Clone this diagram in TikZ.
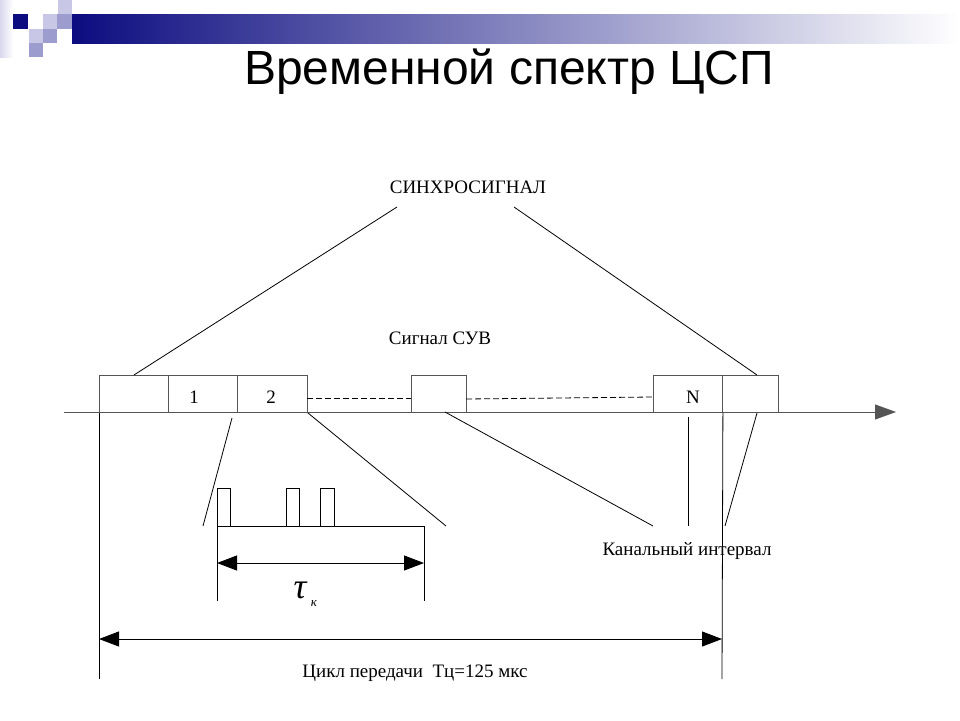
\documentclass[tikz,border=0pt]{standalone}
\usepackage{fontspec}
\setmainfont{Liberation Serif}
\newfontfamily\titlefont{Liberation Sans}
\usetikzlibrary{arrows.meta}
\definecolor{navy}{HTML}{0C0C80}
\definecolor{lav}{HTML}{C8C8E6}
\definecolor{lavmid}{HTML}{9C9CCE}
\definecolor{boxgray}{HTML}{555555}
\begin{document}
\begin{tikzpicture}[x=1pt,y=-1pt,
  slot/.style={draw=boxgray, line width=0.9pt, inner sep=0pt, minimum height=37pt, anchor=north west},
  lbl/.style={inner sep=0pt, anchor=base, font=\fontsize{19}{22}\selectfont},
  wire/.style={line width=0.8pt, black},
  axisline/.style={line width=0.9pt, boxgray},
  dimarrow/.style={line width=0.9pt, black, {Triangle[length=20pt,width=15pt]}-{Triangle[length=20pt,width=15pt]}},
  dashline/.style={line width=0.8pt, black, dash pattern=on 6pt off 3pt}]
\useasboundingbox (0,0) rectangle (960,720);
\fill[white] (0,0) rectangle (960,720);
% header decoration
\shade[left color=navy, right color=white] (72,14) rectangle (960,43);
\shade[left color=lav!70, right color=white] (0,0) rectangle (13,57);
\fill[navy] (13,14) rectangle (28,29);
\fill[lav] (58,0) rectangle (72,14);
\fill[lav] (43,14) rectangle (57,29);
\fill[lavmid] (57,14) rectangle (72,29);
\fill[lav] (29,29) rectangle (43,43);
\fill[lavmid] (43,29) rectangle (57,43);
\fill[lavmid] (29,43) rectangle (43,57);
% title
\node[inner sep=0pt, anchor=base west, font=\titlefont\fontsize{48}{56}\selectfont] (title) at (244,84) {Временной спектр ЦСП};
% axis
\coordinate (ax0) at (64,412);
\coordinate (ax1) at (896,412);
\draw[axisline, -{Triangle[length=21pt,width=15pt]}] (ax0) -- (ax1);
% slots
\node[slot, minimum width=69pt] (s0) at (99,375) {};
\node[slot, minimum width=69pt] (s1) at (168,375) {};
\node[slot, minimum width=70pt] (s2) at (237,375) {};
\node[slot, minimum width=55pt] (sm) at (411,375) {};
\node[slot, minimum width=69pt] (sN) at (653,375) {};
\node[slot, minimum width=56pt] (sz) at (722,375) {};
\node[lbl] (l1) at (194,403) {1};
\node[lbl] (l2) at (271,403) {2};
\node[lbl] (lN) at (693,403) {N};
% dashed links
\coordinate (d0) at (307,398);
\coordinate (d1) at (411,398);
\coordinate (d2) at (466,399);
\coordinate (d3) at (653,397);
\draw[dashline] (d0) -- (d1);
\draw[dashline] (d2) -- (d3);
% labels
\node[lbl] (sync) at (468,193.5) {СИНХРОСИГНАЛ};
\node[lbl] (suv) at (440,344.5) {Сигнал СУВ};
\node[lbl] (ki) at (687,555) {Канальный интервал};
\node[lbl] (cycle) at (415,677) {Цикл передачи\ \ Тц=125 мкс};
% sync connectors
\coordinate (syL) at (397,207);
\coordinate (syR) at (514,207);
\coordinate (szt) at (757,375);
\draw[wire] (syL) -- (s0.north);
\draw[wire] (syR) -- (szt);
% channel interval connectors
\coordinate (smb) at (445,412);
\coordinate (kiA) at (653,526);
\coordinate (kN0) at (688,417);
\coordinate (kN1) at (688,526);
\coordinate (kz0) at (757,413);
\coordinate (kz1) at (725,526);
\draw[wire] (smb) -- (kiA);
\draw[wire] (kN0) -- (kN1);
\draw[wire] (kz0) -- (kz1);
% zoom of slot 2
\coordinate (z0) at (232,418);
\coordinate (z1) at (203,526);
\coordinate (z2) at (446,526);
\draw[wire] (z0) -- (z1);
\draw[wire] (s2.south east) -- (z2);
% pulses
\coordinate (pL) at (217,601);
\coordinate (pR) at (424,601);
\draw[wire] (pL) -- (217,488) -- (230,488) -- (230,526);
\draw[wire] (217,526) -- (424,526) -- (pR);
\draw[wire] (286,526) -- (286,488) -- (299,488) -- (299,526);
\draw[wire] (320,526) -- (320,488) -- (334,488) -- (334,526);
\coordinate (tA) at (217,563);
\coordinate (tB) at (424,563);
\draw[dimarrow] (tA) -- (tB);
\node[inner sep=0pt, anchor=base, font=\fontsize{36}{40}\selectfont\itshape] (tau) at (300,598) {τ};
\node[inner sep=0pt, anchor=base, font=\fontsize{13}{15}\selectfont\itshape] (kap) at (314,606) {к};
% cycle
\coordinate (cL) at (99,679);
\coordinate (cR) at (722,679);
\draw[wire] (s0.south west) -- (cL);
\draw[wire] (sN.south east) -- (cR);
\coordinate (aL) at (99,639);
\coordinate (aR) at (722,639);
\draw[dimarrow] (aL) -- (aR);
\end{tikzpicture}
\end{document}
